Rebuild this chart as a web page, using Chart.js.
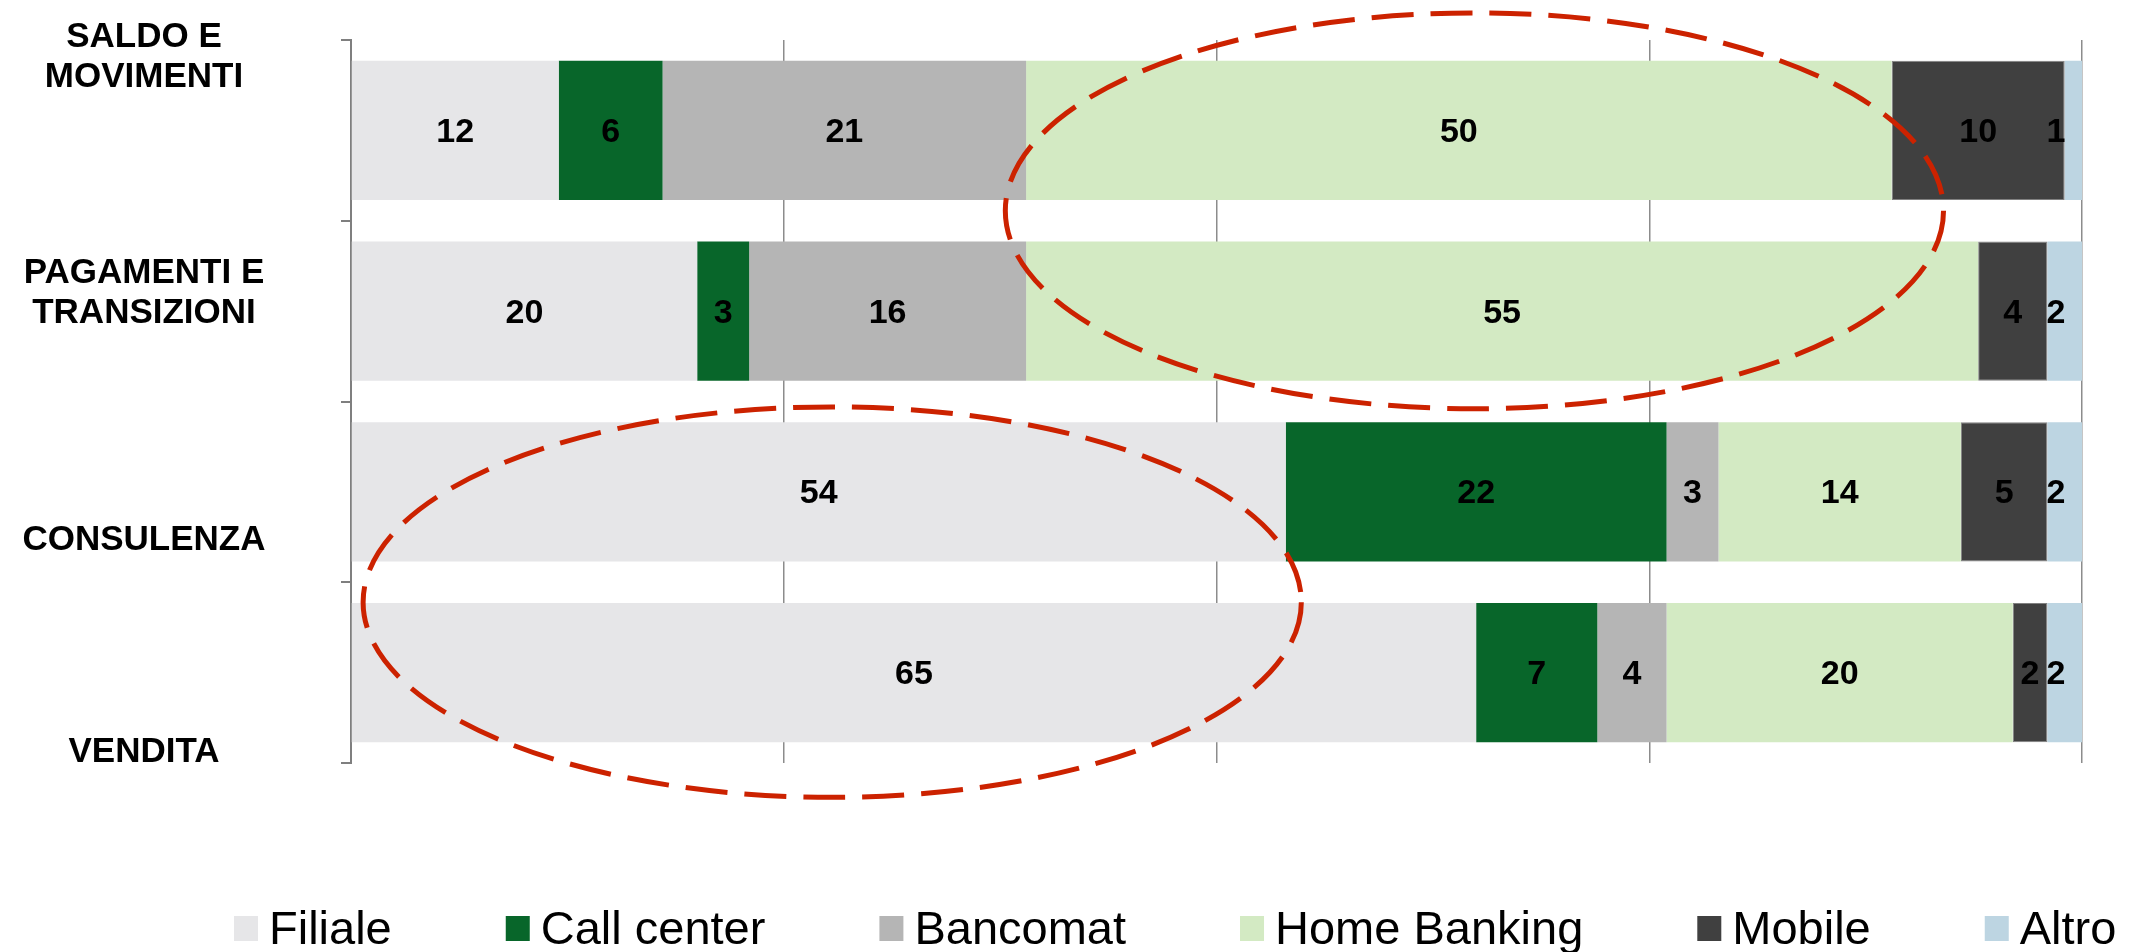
<!DOCTYPE html>
<html>
<head>
<meta charset="utf-8">
<script src="https://cdn.jsdelivr.net/npm/chart.js@4.4.1/dist/chart.umd.min.js"></script>
<style>
  html, body { margin: 0; padding: 0; background: #fff; }
</style>
</head>
<body>
<canvas id="chart" width="2132" height="952"></canvas>
<script>
const categories  = [['SALDO E', 'MOVIMENTI'], ['PAGAMENTI E', 'TRANSIZIONI'], ['CONSULENZA'], ['VENDITA']];
const seriesNames = ['Filiale', 'Call center', 'Bancomat', 'Home Banking', 'Mobile', 'Altro'];
const filiale     = [12, 20, 54, 65];
const callCenter  = [6, 3, 22, 7];
const bancomat    = [21, 16, 3, 4];
const homeBanking = [50, 55, 14, 20];
const mobile      = [10, 4, 5, 2];
const altro       = [1, 2, 2, 2];
const xTicks      = [0, 25, 50, 75, 100];
// highlighted areas in axis units (x = %, y = category index)
const ellipseX = [[37.8, 92.0], [0.7, 54.9]];
const ellipseY = [[-0.65, 1.54], [1.53, 3.69]];

const seriesColors = ['#E6E6E8', '#08662A', '#B5B5B5', '#D3EAC3', '#404040', '#BDD5E2'];
const FONT = '"Liberation Sans", Arial, sans-serif';

const seriesData = [filiale, callCenter, bancomat, homeBanking, mobile, altro];

const datasets = seriesNames.map((name, i) => ({
    label: name,
    data: seriesData[i],
    backgroundColor: seriesColors[i],
    borderColor: i === 4 ? '#808080' : seriesColors[i],
    borderWidth: i === 4 ? 1 : 0,
    borderSkipped: false,
    barPercentage: 0.77,
    categoryPercentage: 1
}));

// value labels centred on each segment
const valueLabels = {
    id: 'valueLabels',
    afterDatasetsDraw(chart) {
        const ctx = chart.ctx, area = chart.chartArea;
        ctx.save();
        ctx.font = 'bold 34px ' + FONT;
        ctx.fillStyle = '#000';
        ctx.textAlign = 'center';
        ctx.textBaseline = 'middle';
        chart.data.datasets.forEach((ds, i) => {
            chart.getDatasetMeta(i).data.forEach((bar, j) => {
                let x = (bar.x + bar.base) / 2;
                if (i === chart.data.datasets.length - 1) x = Math.min(x, area.right - 26);
                ctx.fillText(String(ds.data[j]), x, bar.y + 2);
            });
        });
        ctx.restore();
    }
};

// category names, placed a bit off-centre as in the source slide
const categoryLabels = {
    id: 'categoryLabels',
    afterDraw(chart) {
        const ctx = chart.ctx, y = chart.scales.y;
        const shift = [-73, -18, 48, 80];
        ctx.save();
        ctx.font = 'bold 35px ' + FONT;
        ctx.fillStyle = '#000';
        ctx.textAlign = 'center';
        ctx.textBaseline = 'middle';
        categories.forEach((lines, i) => {
            const cy = y.getPixelForValue(i) + shift[i];
            lines.forEach((t, k) => ctx.fillText(t, 144, cy + (k - (lines.length - 1) / 2) * 40));
        });
        ctx.restore();
    }
};

const ellipses = {
    id: 'ellipses',
    afterDraw(chart) {
        const ctx = chart.ctx, sx = chart.scales.x, sy = chart.scales.y;
        ctx.save();
        ctx.strokeStyle = '#CC2200';
        ctx.lineWidth = 5;
        ctx.setLineDash([42, 17]);
        ellipseX.forEach((ex, i) => {
            const x0 = sx.getPixelForValue(ex[0]), x1 = sx.getPixelForValue(ex[1]);
            const y0 = sy.getPixelForValue(ellipseY[i][0]), y1 = sy.getPixelForValue(ellipseY[i][1]);
            ctx.beginPath();
            ctx.ellipse((x0 + x1) / 2, (y0 + y1) / 2, (x1 - x0) / 2, (y1 - y0) / 2, 0, 0, Math.PI * 2);
            ctx.stroke();
        });
        ctx.restore();
    }
};

const bottomLegend = {
    id: 'bottomLegend',
    afterDraw(chart) {
        const ctx = chart.ctx;
        let x = 234;
        ctx.save();
        ctx.font = '47px ' + FONT;
        ctx.textBaseline = 'alphabetic';
        ctx.textAlign = 'left';
        chart.data.datasets.forEach(ds => {
            ctx.fillStyle = ds.backgroundColor;
            ctx.fillRect(x, 916, 24, 25);
            ctx.fillStyle = '#000';
            ctx.fillText(ds.label, x + 35, 944);
            x += 35 + ctx.measureText(ds.label).width + 114;
        });
        ctx.restore();
    }
};

new Chart(document.getElementById('chart'), {
    type: 'bar',
    data: { labels: categories.map(c => c.join(' ')), datasets },
    options: {
        indexAxis: 'y',
        responsive: false,
        animation: false,
        devicePixelRatio: 1,
        layout: { padding: { left: 341, right: 50, top: 40, bottom: 189 } },
        plugins: { legend: { display: false }, tooltip: { enabled: false } },
        scales: {
            x: {
                stacked: true, min: 0, max: 100,
                afterBuildTicks: s => { s.ticks = xTicks.map(v => ({ value: v })); },
                ticks: { display: false },
                grid: { color: '#8c8c8c', lineWidth: 1.5, drawTicks: false },
                border: { display: false }
            },
            y: {
                stacked: true,
                ticks: { display: false },
                grid: { drawOnChartArea: false, drawTicks: true, tickLength: 10, color: '#7f7f7f', lineWidth: 2, offset: true },
                border: { display: true, color: '#7f7f7f', width: 2 }
            }
        }
    },
    plugins: [valueLabels, categoryLabels, ellipses, bottomLegend]
});
</script>
</body>
</html>
